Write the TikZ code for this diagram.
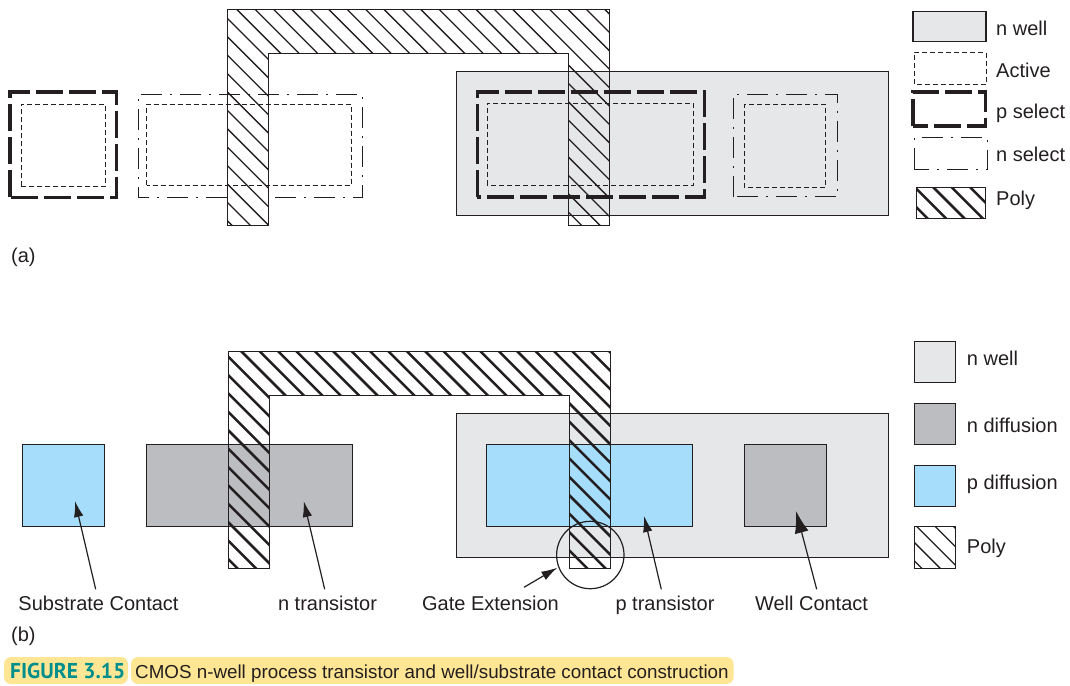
\documentclass[tikz,border=0pt]{standalone}
\usepackage{fontspec}
\setmainfont{Liberation Sans}
\newfontfamily\capfont{PT Sans}
\usepackage{tikz}
\usetikzlibrary{arrows.meta}

\definecolor{wellgray}{HTML}{E6E7E8}
\definecolor{ndiffgray}{HTML}{BCBDC0}
\definecolor{pdiffblue}{HTML}{A6DDFB}
\definecolor{capyellow}{HTML}{FFE694}
\definecolor{capteal}{HTML}{008F8C}
\definecolor{inkblack}{HTML}{231F20}

\tikzset{
  solidbox/.style={draw=inkblack,line width=1.2pt},
  activebox/.style={draw=inkblack,line width=1pt,dash pattern=on 5pt off 3pt},
  pselbox/.style={draw=inkblack,line width=3.6pt,dash pattern=on 27pt off 6pt},
  nselbox/.style={draw=inkblack,line width=1pt,dash pattern=on 21pt off 8pt on 2pt off 8pt},
  hatchthin/.style={draw=inkblack,line width=1.3pt},
  hatchthick/.style={draw=inkblack,line width=2.5pt},
  textlabel/.style={anchor=base,inner xsep=0pt,inner ysep=6.5pt,text height=14pt,
    font=\fontsize{20}{22}\selectfont,text=inkblack},
  legendlabel/.style={textlabel,anchor=base west},
  pointer/.style={draw=inkblack,line width=1.2pt,-{Latex[length=16pt,width=9.5pt]}},
  bigpointer/.style={draw=inkblack,line width=1.2pt,-{Latex[length=22pt,width=14pt]}},
  capbox/.style={fill=capyellow,rounded corners=7pt}
}

% diagonal lines, c = x-y of one of them; the caller clips
\newcommand{\polyhatch}[2]{
  \foreach \i in {-24,...,24}
    \draw[#1] ({#2+18.4*\i-300},-300) -- ++(1400,1400);
}

\begin{document}
\begin{tikzpicture}[x=1pt,y=-1pt]
\useasboundingbox (0,0) rectangle (1070,685);

% (a) layout
\fill[wellgray] (456.3,71.3) rectangle (888.6,215.3);
\draw[solidbox] (456.3,71.3) rectangle (888.6,215.3);

\begin{scope}
\clip (227.3,9.3) -- (609.5,9.3) -- (609.5,225.5) -- (568.5,225.5) -- (568.5,53.3) -- (268.3,53.3) -- (268.3,225.5) -- (227.3,225.5) -- cycle;
\polyhatch{hatchthin}{227.4}
\end{scope}
\draw[solidbox] (227.3,9.3) -- (609.5,9.3) -- (609.5,225.5) -- (568.5,225.5) -- (568.5,53.3) -- (268.3,53.3) -- (268.3,225.5) -- (227.3,225.5) -- cycle;

\draw[pselbox] (9.7,197.3) rectangle (116.3,91.7);
\draw[activebox] (21.3,186.3) rectangle (105.7,104.3);

\draw[nselbox] (227.3,197.3) -- (138.3,197.3) -- (138.3,94.3) -- (362.3,94.3) -- (362.3,197.3) -- (268.3,197.3);
\draw[activebox] (146.7,185.3) rectangle (351.3,104.3);

\draw[pselbox] (477.3,196.7) rectangle (704.3,92);
\draw[activebox] (487.4,185.3) rectangle (693.8,103.3);

\draw[nselbox] (733,196.7) rectangle (837.6,94);
\draw[activebox] (744.4,187.7) rectangle (825.5,104.3);

% (a) legend
\fill[wellgray] (913,11.3) rectangle (986,41.3);
\draw[solidbox] (913,11.3) rectangle (986,41.3);
\draw[activebox] (914.3,84.3) rectangle (986,52.3);
\draw[pselbox] (913,126) rectangle (985.4,92);
\draw[nselbox] (914.3,169) rectangle (987.4,137.3);
\begin{scope}
\clip (916.7,187.3) rectangle (985.7,218.3);
\polyhatch{hatchthick}{764.4}
\end{scope}
\draw[solidbox] (916.7,187.3) rectangle (985.7,218.3);

\node[legendlabel] (keyWellA) at (996,36) {n well};
\node[legendlabel] (keyActive) at (996,77.3) {Active};
\node[legendlabel] (keyPsel) at (996,118) {p select};
\node[legendlabel] (keyNsel) at (996,161.2) {n select};
\node[legendlabel] (keyPolyA) at (996,205.3) {Poly};
\node[legendlabel] (tagA) at (11,262.2) {(a)};

% (b) layout
\fill[wellgray] (456.3,413.5) rectangle (888.6,557.3);
\draw[solidbox] (456.3,413.5) rectangle (888.6,557.3);

\fill[pdiffblue] (22.3,444.3) rectangle (104.7,526.3);
\draw[solidbox] (22.3,444.3) rectangle (104.7,526.3);
\fill[ndiffgray] (146.3,444.3) rectangle (352.7,526.3);
\draw[solidbox] (146.3,444.3) rectangle (352.7,526.3);
\fill[pdiffblue] (486.5,444.3) rectangle (692.7,526.3);
\draw[solidbox] (486.5,444.3) rectangle (692.7,526.3);
\fill[ndiffgray] (744.3,444.3) rectangle (826.7,526.3);
\draw[solidbox] (744.3,444.3) rectangle (826.7,526.3);

\begin{scope}
\clip (228.3,351.7) -- (610.3,351.7) -- (610.3,568.3) -- (569.7,568.3) -- (569.7,395.7) -- (269.3,395.7) -- (269.3,568.3) -- (228.3,568.3) -- cycle;
\polyhatch{hatchthick}{-110}
\end{scope}
\draw[solidbox] (228.3,351.7) -- (610.3,351.7) -- (610.3,568.3) -- (569.7,568.3) -- (569.7,395.7) -- (269.3,395.7) -- (269.3,568.3) -- (228.3,568.3) -- cycle;

\draw[draw=inkblack,line width=1.2pt] (590.3,555) circle[radius=33.7];

\node[textlabel] (lblSubstrate) at (98.5,610) {Substrate Contact};
\node[textlabel] (lblNtrans) at (327.5,610) {n transistor};
\node[textlabel] (lblGate) at (490.5,610) {Gate Extension};
\node[textlabel] (lblPtrans) at (665,610) {p transistor};
\node[textlabel] (lblWell) at (811.5,610) {Well Contact};
\node[legendlabel] (tagB) at (11,641.7) {(b)};

\coordinate (tipSubstrate) at (75,501);
\coordinate (tipNtrans) at (303.7,501);
\coordinate (tipGate) at (557.3,567.7);
\coordinate (tipPtrans) at (644,516);
\coordinate (tipWell) at (796,511);

\draw[pointer] ([xshift=-2.8pt]lblSubstrate.north) -- (tipSubstrate);
\draw[pointer] ([xshift=-2.8pt]lblNtrans.north) -- (tipNtrans);
\draw[pointer] ([xshift=33.5pt,yshift=2pt]lblGate.north) -- (tipGate);
\draw[pointer] ([xshift=-3.7pt]lblPtrans.north) -- (tipPtrans);
\draw[bigpointer] ([xshift=5.2pt]lblWell.north) -- (tipWell);

% (b) legend
\fill[wellgray] (914.3,341.7) rectangle (955.7,382.3);
\draw[solidbox] (914.3,341.7) rectangle (955.7,382.3);
\fill[ndiffgray] (914.3,403.3) rectangle (955.7,444.3);
\draw[solidbox] (914.3,403.3) rectangle (955.7,444.3);
\fill[pdiffblue] (914.3,465.3) rectangle (955.7,506.3);
\draw[solidbox] (914.3,465.3) rectangle (955.7,506.3);
\begin{scope}
\clip (914.3,526.3) rectangle (955.7,568.3);
\polyhatch{hatchthin}{408.7}
\end{scope}
\draw[solidbox] (914.3,526.3) rectangle (955.7,568.3);

\node[legendlabel] (keyWellB) at (966.7,365.3) {n well};
\node[legendlabel] (keyNdiff) at (966.7,432) {n diffusion};
\node[legendlabel] (keyPdiff) at (966.7,489.3) {p diffusion};
\node[legendlabel] (keyPolyB) at (966.7,553.2) {Poly};

% caption
\fill[capbox] (4,657) rectangle (128,684);
\fill[capbox] (131,657) rectangle (733.5,684);
\node[anchor=base west,inner sep=0pt,text=capteal,font=\capfont\bfseries\fontsize{21.5}{24}\selectfont] (capNumber) at (10,678.3) {FIGURE 3.15};
\node[anchor=base west,inner sep=0pt,text=inkblack,font=\fontsize{18.8}{22}\selectfont] (capText) at (135,678.3) {CMOS n-well process transistor and well/substrate contact construction};

\end{tikzpicture}
\end{document}
